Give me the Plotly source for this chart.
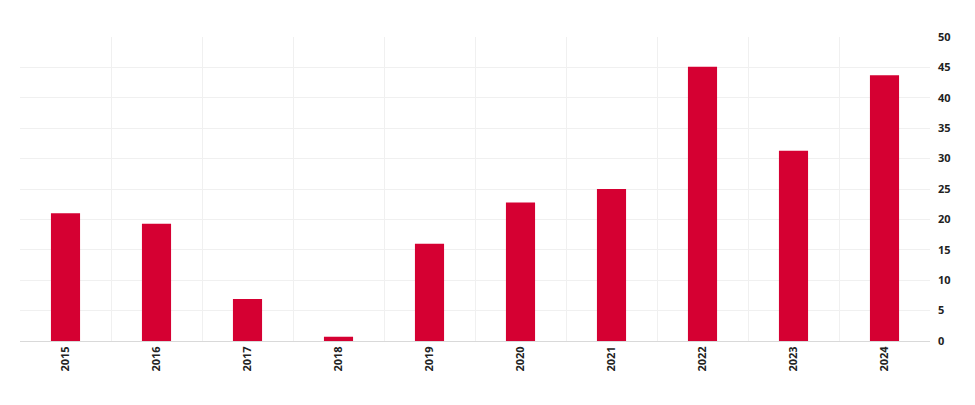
import plotly.graph_objects as go

years = ["2015", "2016", "2017", "2018", "2019", "2020", "2021", "2022", "2023", "2024"]
values = [21.0, 19.3, 6.9, 0.7, 16.0, 22.8, 25.0, 45.1, 31.3, 43.7]
y_ticks = [0, 5, 10, 15, 20, 25, 30, 35, 40, 45, 50]

fig = go.Figure(go.Bar(x=years, y=values, marker=dict(color="#d50032", line=dict(width=0))))

fig.update_layout(
    width=967, height=397,
    margin=dict(l=12, r=45, t=29, b=64),
    paper_bgcolor="white", plot_bgcolor="white",
    bargap=0.68,
    showlegend=False,
    font=dict(family="Open Sans", size=11, color="#222222"),
)
fig.update_xaxes(
    type="category", tickson="boundaries", tickangle=-90,
    showgrid=True, gridcolor="#f0f0f0", gridwidth=1,
    showline=True, linecolor="#d9d9d9", linewidth=1,
    ticks="", tickfont=dict(family="Open Sans", size=11, color="#222222", weight=700),
)
fig.update_yaxes(
    side="right", range=[0, 50], tickvals=y_ticks,
    showgrid=True, gridcolor="#f0f0f0", gridwidth=1,
    zeroline=False, showline=False, ticks="", ticklabelstandoff=7,
    tickfont=dict(family="Open Sans", size=11, color="#222222", weight=700),
)

fig.write_html("out.html")
